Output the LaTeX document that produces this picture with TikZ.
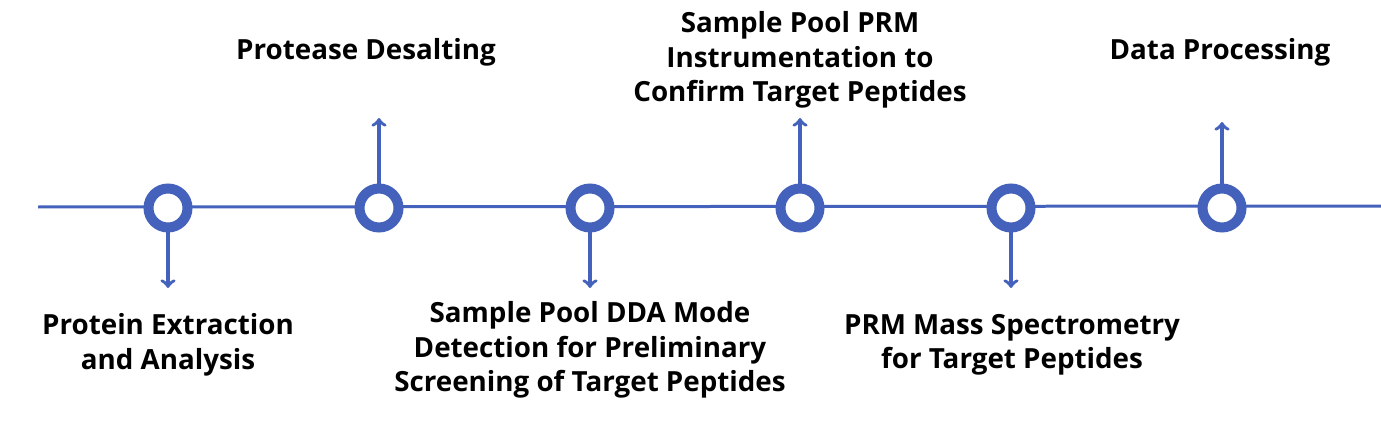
\documentclass[tikz,border=0pt]{standalone}
\usepackage{fontspec}
\setmainfont{Open Sans}
\usetikzlibrary{positioning}
\definecolor{lineblue}{HTML}{4462BB}
\tikzset{
  ring/.style={circle, draw=lineblue, line width=0.2cm, fill=white, minimum size=0.78cm, inner sep=0pt},
  stem/.style={->, lineblue, line width=0.07cm},
  label/.style={align=center, font=\bfseries\fontsize{15.8}{19.6}\selectfont}
}
\begin{document}
\begin{tikzpicture}[x=0.02cm, y=-0.02cm]
  \useasboundingbox (0,0) rectangle (1381,442);
  \coordinate (start) at (38,207);
  \coordinate (end) at (1381,206);
  \draw[lineblue, line width=0.06cm] (start) -- (end);

  % milestones on the line
  \foreach \n/\x in {a/168, b/379, c/590, d/800, e/1011, f/1222}
    \node[ring] (\n) at (\x,208) {};

  % pointers
  \coordinate (ta) at (168,288);
  \coordinate (tb) at (379,118);
  \coordinate (tc) at (590,288);
  \coordinate (td) at (800,118);
  \coordinate (te) at (1011,288);
  \coordinate (tf) at (1222,122);
  \foreach \n in {a,c,e} \draw[stem] (\n.south) -- (t\n);
  \foreach \n in {b,d,f} \draw[stem] (\n.north) -- (t\n);

  % texts
  \node[label] (la) at (168,345) {Protein Extraction\\and Analysis};
  \node[label] (lb) at (366,52) {Protease Desalting};
  \node[label] (lc) at (590,350) {Sample Pool DDA Mode\\Detection for Preliminary\\Screening of Target Peptides};
  \node[label] (ld) at (800,60) {Sample Pool PRM\\Instrumentation to\\Confirm Target Peptides};
  \node[label] (le) at (1012,345) {PRM Mass Spectrometry\\for Target Peptides};
  \node[label] (lf) at (1220,52) {Data Processing};
\end{tikzpicture}
\end{document}
